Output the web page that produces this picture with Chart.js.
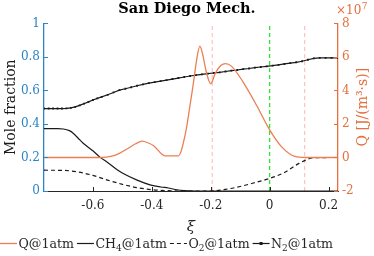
<!DOCTYPE html>
<html>
<head>
<meta charset="utf-8">
<script src="https://cdn.jsdelivr.net/npm/chart.js@4.4.1/dist/chart.umd.min.js"></script>
<style>
    html, body { margin: 0; padding: 0; background: #ffffff; }
</style>
</head>
<body>
<canvas id="sdChart" width="374" height="256"></canvas>
<script>
// values (xi coordinate on x)
const qXi = [-0.766, -0.57, -0.54, -0.51, -0.48, -0.455, -0.433, -0.41, -0.395, -0.355, -0.31,
    -0.284, -0.273, -0.26, -0.248, -0.237, -0.228, -0.215, -0.2, -0.185, -0.165, -0.15, -0.13,
    -0.09, -0.044, 0, 0.04, 0.086, 0.12, 0.232];
// heat release, x 10^7 J/(m^3 s)
const qValues = [0, 0, 0.06, 0.25, 0.55, 0.82, 0.97, 0.85, 0.72, 0.1, 0.1,
    1.6, 2.8, 4.3, 5.8, 6.65, 6.2, 5.1, 4.4, 5.0, 5.5, 5.6, 5.45,
    4.5, 3.1, 1.65, 0.65, 0.06, 0, 0];

const ch4Xi = [-0.766, -0.72, -0.70, -0.68, -0.667, -0.65, -0.633, -0.60, -0.576, -0.55, -0.52,
    -0.497, -0.45, -0.406, -0.37, -0.344, -0.32, -0.29, -0.25, 0.232];
const ch4Values = [0.372, 0.372, 0.370, 0.360, 0.345, 0.315, 0.285, 0.240, 0.202, 0.170, 0.130,
    0.104, 0.065, 0.037, 0.024, 0.018, 0.009, 0.002, 0, 0];

const o2Xi = [-0.766, -0.70, -0.65, -0.60, -0.55, -0.50, -0.45, -0.40, -0.35, -0.30, -0.20,
    -0.15, -0.10, -0.05, 0, 0.05, 0.10, 0.15, 0.232];
const o2Values = [0.124, 0.123, 0.113, 0.093, 0.065, 0.040, 0.020, 0.008, 0.002, 0, 0,
    0.010, 0.027, 0.050, 0.075, 0.110, 0.165, 0.198, 0.200];

const n2Xi = [-0.766, -0.75, -0.735, -0.72, -0.705, -0.69, -0.675, -0.66, -0.645, -0.63, -0.615,
    -0.60, -0.585, -0.57, -0.55, -0.53, -0.51, -0.49, -0.47, -0.45, -0.43, -0.41, -0.39,
    -0.37, -0.35, -0.33, -0.31, -0.29, -0.27, -0.25, -0.23, -0.21, -0.19, -0.17, -0.15,
    -0.13, -0.11, -0.09, -0.07, -0.05, -0.03, -0.01, 0.01, 0.03, 0.05, 0.07, 0.09, 0.11,
    0.13, 0.15, 0.17, 0.19, 0.21, 0.232];
const n2Values = [0.492, 0.492, 0.492, 0.492, 0.492, 0.493, 0.496, 0.502, 0.511, 0.521, 0.532,
    0.543, 0.553, 0.562, 0.574, 0.588, 0.602, 0.610, 0.619, 0.628, 0.636, 0.644, 0.650,
    0.656, 0.662, 0.668, 0.674, 0.680, 0.686, 0.691, 0.696, 0.700, 0.704, 0.708, 0.713,
    0.718, 0.722, 0.727, 0.731, 0.736, 0.740, 0.744, 0.748, 0.753, 0.758, 0.763, 0.768, 0.774,
    0.783, 0.791, 0.794, 0.794, 0.794, 0.794];

const pinkLines = [-0.195, 0.119];
const greenLines = [0];

const xTicks = [-0.6, -0.4, -0.2, 0, 0.2];
const leftTicks = [0, 0.2, 0.4, 0.6, 0.8, 1];
const rightTicks = [-2, 0, 2, 4, 6, 8];

const seriesLabels = ['Q@1atm', 'CH_4@1atm', 'O_2@1atm', 'N_2@1atm'];

const BLUE = '#2b86c6';
const ORANGE = '#e4703e';
const QLINE = '#ec7f52';
const DARK = '#1a1a1a';
const AXIS = '#262626';
const FONT = 'DejaVu Serif';

Chart.defaults.font.family = FONT;

const pts = (xs, ys) => xs.map((x, i) => ({ x: x, y: ys[i] }));
const vline = x => [{ x: x, y: 0 }, { x: x, y: 1 }];

// inward tick marks like the original
const innerTicks = {
    id: 'innerTicks',
    afterDraw(chart) {
        const ctx = chart.ctx;
        const area = chart.chartArea;
        const sx = chart.scales.x, sy = chart.scales.y, sy1 = chart.scales.y1;
        ctx.save();
        ctx.lineWidth = 1;
        ctx.strokeStyle = AXIS;
        xTicks.forEach(v => {
            const px = Math.round(sx.getPixelForValue(v)) + 0.5;
            ctx.beginPath();
            ctx.moveTo(px, area.bottom);
            ctx.lineTo(px, area.bottom - 4);
            ctx.stroke();
        });
        ctx.strokeStyle = BLUE;
        leftTicks.forEach(v => {
            const py = Math.round(sy.getPixelForValue(v)) + 0.5;
            ctx.beginPath();
            ctx.moveTo(area.left, py);
            ctx.lineTo(area.left + 4, py);
            ctx.stroke();
        });
        ctx.strokeStyle = ORANGE;
        rightTicks.forEach(v => {
            const py = Math.round(sy1.getPixelForValue(v)) + 0.5;
            ctx.beginPath();
            ctx.moveTo(area.right, py);
            ctx.lineTo(area.right - 4, py);
            ctx.stroke();
        });

        // right axis title, reading bottom to top
        ctx.fillStyle = ORANGE;
        ctx.font = '14px "' + FONT + '"';
        ctx.textAlign = 'center';
        ctx.textBaseline = 'middle';
        ctx.translate(363, (area.top + area.bottom) / 2);
        ctx.rotate(-Math.PI / 2);
        ctx.fillText('Q [J/(m\u00b3\u00b7s)]', 0, 0);
        ctx.restore();

        // exponent label
        ctx.save();
        ctx.fillStyle = ORANGE;
        ctx.font = '12px "' + FONT + '"';
        ctx.textAlign = 'left';
        ctx.textBaseline = 'alphabetic';
        ctx.fillText('\u00d710', 336, 14);
        const w = ctx.measureText('\u00d710').width;
        ctx.font = '9px "' + FONT + '"';
        ctx.fillText('7', 336 + w + 0.5, 9);
        ctx.restore();
    }
};

// legend in one row below the axis
const rowLegend = {
    id: 'rowLegend',
    afterDraw(chart) {
        const ctx = chart.ctx;
        const y = 243.5;
        let x = 0;
        ctx.save();
        seriesLabels.forEach((label, i) => {
            const ds = chart.data.datasets[i];
            ctx.strokeStyle = ds.borderColor;
            ctx.lineWidth = ds.borderWidth;
            ctx.setLineDash(ds.borderDash || []);
            ctx.beginPath();
            ctx.moveTo(x, y);
            ctx.lineTo(x + 17, y);
            ctx.stroke();
            ctx.setLineDash([]);
            if (ds.pointRadius > 0) {
                ctx.fillStyle = ds.borderColor;
                ctx.fillRect(x + 7, y - 1.5, 3, 3);
            }
            x += 18.5;
            ctx.fillStyle = AXIS;
            ctx.textBaseline = 'alphabetic';
            ctx.textAlign = 'left';
            label.split(/_(\d)/).forEach((part, k) => {
                if (k % 2 === 1) {
                    ctx.font = '9px "' + FONT + '"';
                    ctx.fillText(part, x, y + 7.5);
                } else {
                    ctx.font = '12.6px "' + FONT + '"';
                    ctx.fillText(part, x, y + 4.5);
                }
                x += ctx.measureText(part).width;
            });
            x += 3;
        });
        ctx.restore();
    }
};

new Chart(
    document.getElementById('sdChart'),
    {
        type: 'line',
        data: {
            datasets: [
                {
                    label: 'Q@1atm',
                    data: pts(qXi, qValues),
                    yAxisID: 'y1',
                    borderColor: QLINE,
                    borderWidth: 1.3,
                    pointRadius: 0,
                    cubicInterpolationMode: 'monotone'
                },
                {
                    label: 'CH4@1atm',
                    data: pts(ch4Xi, ch4Values),
                    yAxisID: 'y',
                    borderColor: DARK,
                    borderWidth: 1.2,
                    pointRadius: 0,
                    cubicInterpolationMode: 'monotone'
                },
                {
                    label: 'O2@1atm',
                    data: pts(o2Xi, o2Values),
                    yAxisID: 'y',
                    borderColor: DARK,
                    borderWidth: 1.2,
                    borderDash: [4, 3],
                    pointRadius: 0,
                    cubicInterpolationMode: 'monotone'
                },
                {
                    label: 'N2@1atm',
                    data: pts(n2Xi, n2Values),
                    yAxisID: 'y',
                    borderColor: DARK,
                    borderWidth: 1.2,
                    pointStyle: 'rect',
                    pointRadius: 1.3,
                    pointBackgroundColor: DARK,
                    pointBorderWidth: 0
                },
                ...pinkLines.map(v => ({
                    data: vline(v),
                    yAxisID: 'y',
                    borderColor: '#ffb4b4',
                    borderWidth: 1,
                    borderDash: [4, 3],
                    pointRadius: 0
                })),
                ...greenLines.map(v => ({
                    data: vline(v),
                    yAxisID: 'y',
                    borderColor: '#22e622',
                    borderWidth: 1.2,
                    borderDash: [4, 3],
                    pointRadius: 0
                }))
            ]
        },
        options: {
            responsive: false,
            animation: false,
            devicePixelRatio: 1,
            layout: {
                padding: { top: 0, bottom: 20, left: 0, right: 0 }
            },
            plugins: {
                legend: { display: false },
                tooltip: { enabled: false },
                title: {
                    display: true,
                    text: 'San Diego Mech.',
                    color: '#000000',
                    font: { size: 14.5, weight: 'bold' },
                    padding: { top: 1, bottom: 5 }
                }
            },
            scales: {
                x: {
                    type: 'linear',
                    min: -0.766,
                    max: 0.232,
                    afterBuildTicks: s => { s.ticks = xTicks.map(v => ({ value: v })); },
                    afterFit: s => { s.height = 45; },
                    grid: { display: false, drawTicks: false },
                    border: { display: true, color: AXIS, width: 1 },
                    ticks: {
                        color: AXIS,
                        font: { size: 12 },
                        padding: 8,
                        maxRotation: 0,
                        callback: v => String(v)
                    },
                    title: {
                        display: true,
                        text: '\u03be',
                        color: AXIS,
                        font: { size: 15, style: 'italic' },
                        padding: 0
                    }
                },
                y: {
                    position: 'left',
                    min: 0,
                    max: 1,
                    afterBuildTicks: s => { s.ticks = leftTicks.map(v => ({ value: v })); },
                    afterFit: s => { s.width = 44; },
                    grid: { display: false, drawTicks: false },
                    border: { display: true, color: BLUE, width: 1.3 },
                    ticks: {
                        color: BLUE,
                        font: { size: 12 },
                        padding: 4,
                        callback: v => String(v)
                    },
                    title: {
                        display: true,
                        text: 'Mole fraction',
                        color: DARK,
                        font: { size: 14 },
                        padding: { top: 3, bottom: 0 }
                    }
                },
                y1: {
                    position: 'right',
                    min: -2,
                    max: 8,
                    afterBuildTicks: s => { s.ticks = rightTicks.map(v => ({ value: v })); },
                    afterFit: s => { s.width = 36; },
                    grid: { display: false, drawTicks: false },
                    border: { display: true, color: ORANGE, width: 1.3 },
                    ticks: {
                        color: ORANGE,
                        font: { size: 12 },
                        padding: 4,
                        callback: v => String(v)
                    }
                }
            }
        },
        plugins: [innerTicks, rowLegend]
    }
);
</script>
</body>
</html>
